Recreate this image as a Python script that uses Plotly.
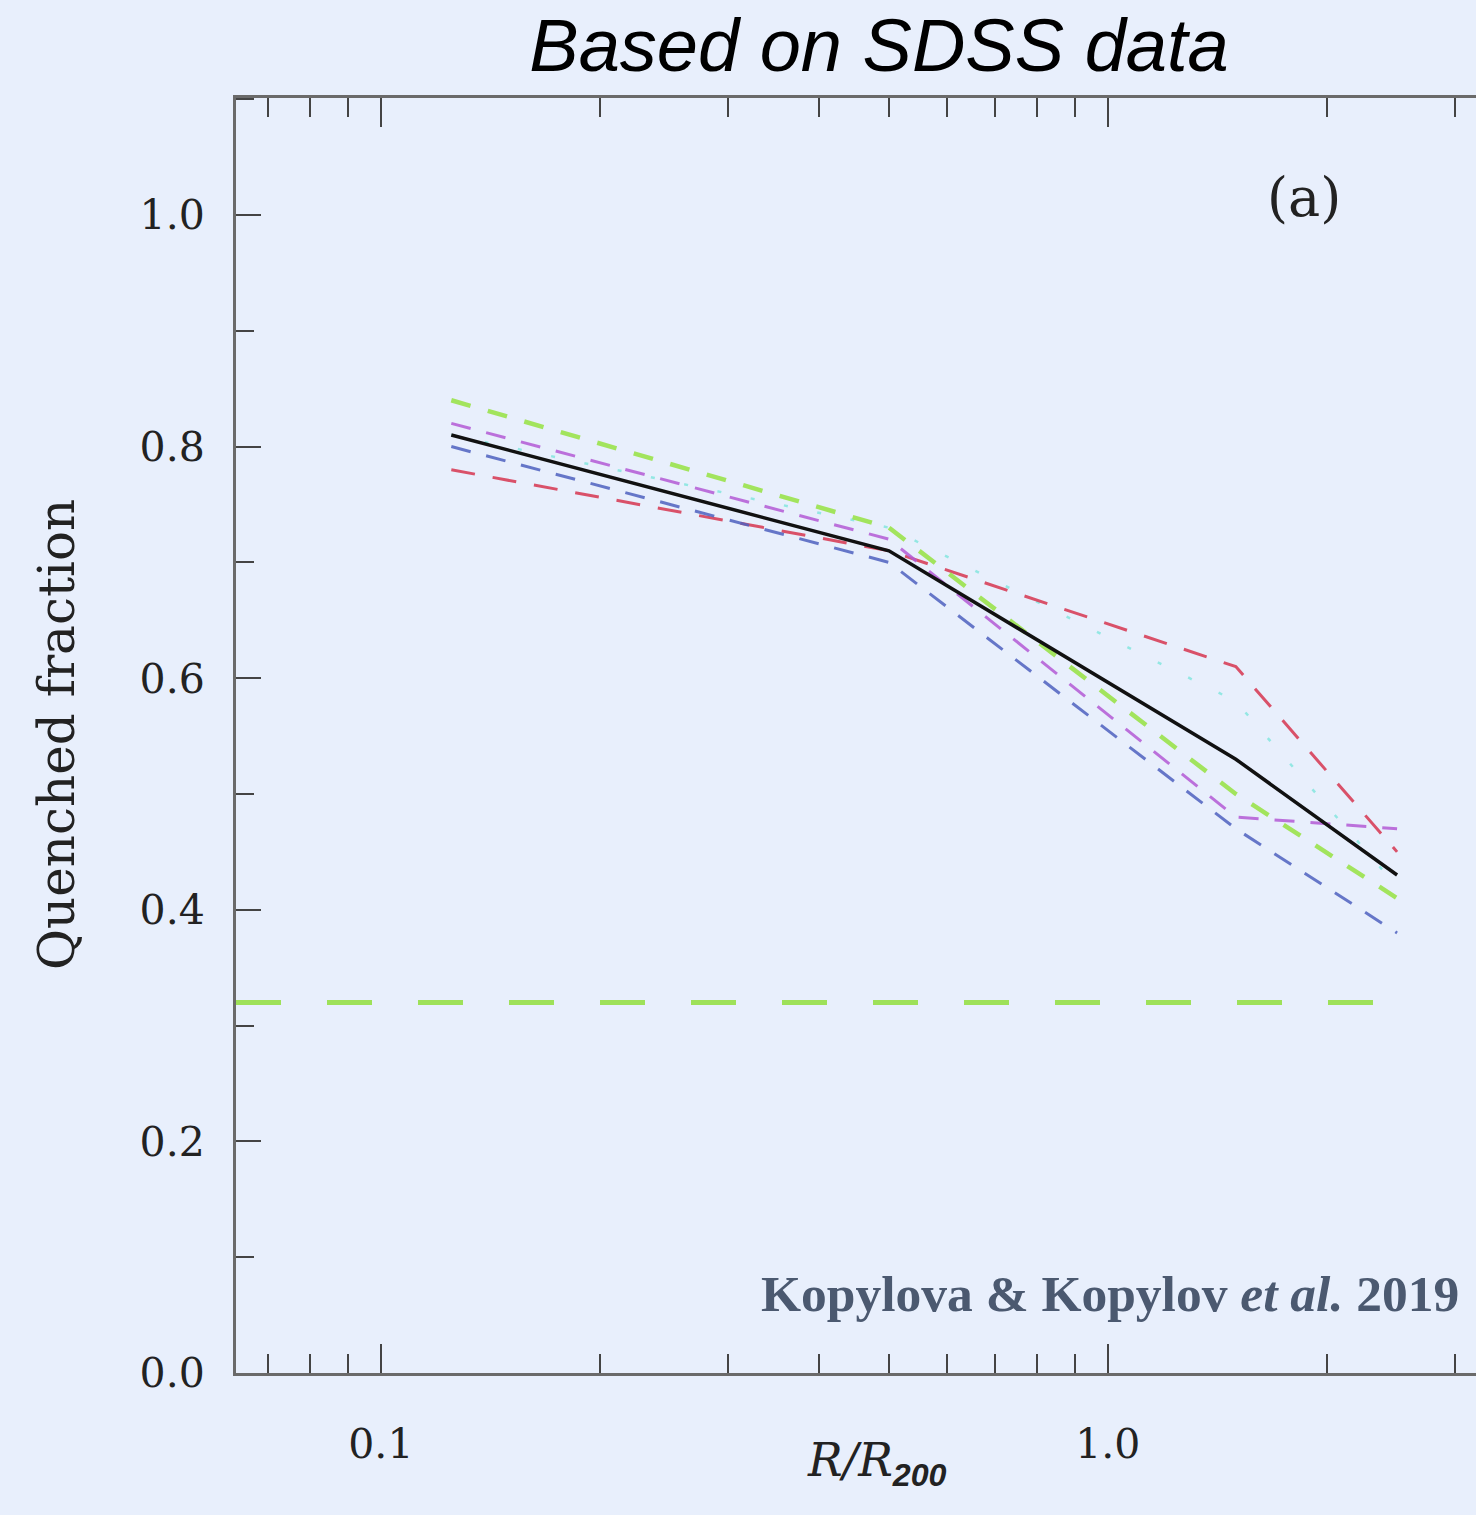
import plotly.graph_objects as go
import numpy as np

# ---- data ----
r_r200 = [0.125, 0.5, 1.5, 2.5]
mean_all = [0.81, 0.71, 0.53, 0.43]
green_vals = [0.84, 0.73, 0.50, 0.41]
purple_vals = [0.82, 0.72, 0.48, 0.47]
blue_vals = [0.80, 0.70, 0.47, 0.38]
red_vals = [0.78, 0.71, 0.61, 0.45]
cyan_vals = [0.81, 0.73, 0.58, 0.42]
field_x = [0.0632, 2.5]
field_level = [0.32, 0.32]

y_ticks = [0.0, 0.2, 0.4, 0.6, 0.8, 1.0]
y_ticktext = ["0.0", "0.2", "0.4", "0.6", "0.8", "1.0"]
x_ticks = [0.1, 1.0]
x_ticktext = ["0.1", "1.0"]
x_minor = [0.07, 0.08, 0.09, 0.2, 0.3, 0.4, 0.5, 0.6, 0.7, 0.8, 0.9, 2.0, 3.0]

BG = "#E8EFFC"

fig = go.Figure()

# horizontal field level
fig.add_trace(go.Scatter(x=field_x, y=field_level, mode="lines",
                         line=dict(color="#96E048", width=5, dash="45px,46px"),
                         opacity=0.9, showlegend=False))

series = [
    (cyan_vals, "#7FE6DE", 2.5, "4px,30px", 0.8),
    (red_vals, "#D8405A", 3, "24px,18px", 0.9),
    (blue_vals, "#4F62C0", 3, "20px,16px", 0.85),
    (purple_vals, "#B45BD6", 3, "20px,16px", 0.85),
    (green_vals, "#9BE34C", 4.5, "20px,18px", 0.9),
]
for vals, col, w, dash, op in series:
    fig.add_trace(go.Scatter(x=r_r200, y=vals, mode="lines",
                             line=dict(color=col, width=w, dash=dash),
                             opacity=op, showlegend=False))

fig.add_trace(go.Scatter(x=r_r200, y=mean_all, mode="lines",
                         line=dict(color="#111111", width=3.5),
                         showlegend=False))

tickfont = dict(family="DejaVu Serif", size=41, color="#222222")

fig.update_layout(
    width=1476, height=1515,
    margin=dict(l=236, r=0, t=98, b=142),
    paper_bgcolor=BG, plot_bgcolor=BG,
    title=dict(text="Based on SDSS data", x=879 / 1476, xanchor="center",
               y=1 - 71 / 1515, yanchor="bottom", yref="container",
               font=dict(family="Liberation Sans", size=74, color="#000000", style="italic")),
    xaxis=dict(type="log", range=[np.log10(0.0632), np.log10(3.21)],
               showgrid=False, zeroline=False,
               showline=True, linecolor="#6a6a6a", linewidth=3, mirror="ticks",
               ticks="inside", ticklen=29, tickwidth=2, tickcolor="#444444",
               tickvals=x_ticks, ticktext=x_ticktext, tickfont=tickfont,
               ticklabelstandoff=33,
               minor=dict(tickvals=x_minor, ticks="inside", ticklen=19,
                          tickwidth=2, tickcolor="#444444", showgrid=False)),
    yaxis=dict(range=[0, 1.101], showgrid=False, zeroline=False,
               showline=True, linecolor="#6a6a6a", linewidth=3, mirror=False,
               ticks="inside", ticklen=25, tickwidth=2, tickcolor="#444444",
               tickvals=y_ticks, ticktext=y_ticktext, tickfont=tickfont,
               ticklabelstandoff=20,
               minor=dict(dtick=0.1, ticks="inside", ticklen=18,
                          tickwidth=2, tickcolor="#444444", showgrid=False)),
)

fig.add_annotation(text="Quenched fraction", xref="paper", yref="paper",
                   x=(57 - 236) / 1240, y=(1373 - 735) / 1275,
                   xanchor="center", yanchor="middle", textangle=-90,
                   showarrow=False,
                   font=dict(family="DejaVu Serif", size=50, color="#222222"))

fig.add_annotation(text="<i>R/R</i><sub><span style=\"font-family:'Liberation Sans';font-weight:bold\"><i>200</i></span></sub>",
                   xref="paper", yref="paper",
                   x=(877 - 236) / 1240, y=(1373 - 1463) / 1275,
                   xanchor="center", yanchor="middle", showarrow=False,
                   font=dict(family="DejaVu Serif", size=46, color="#222222"))

fig.add_annotation(text="(a)", xref="paper", yref="paper",
                   x=(1304 - 236) / 1240, y=(1373 - 197) / 1275,
                   xanchor="center", yanchor="middle", showarrow=False,
                   font=dict(family="DejaVu Serif", size=54, color="#222222"))

fig.add_annotation(text="<b>Kopylova &amp; Kopylov <i>et al.</i> 2019</b>",
                   xref="paper", yref="paper",
                   x=(1461 - 236) / 1240, y=(1373 - 1293) / 1275,
                   xanchor="right", yanchor="middle", showarrow=False,
                   font=dict(family="Liberation Serif", size=51.5, color="#4B5970"))

fig.write_html("out.html")
